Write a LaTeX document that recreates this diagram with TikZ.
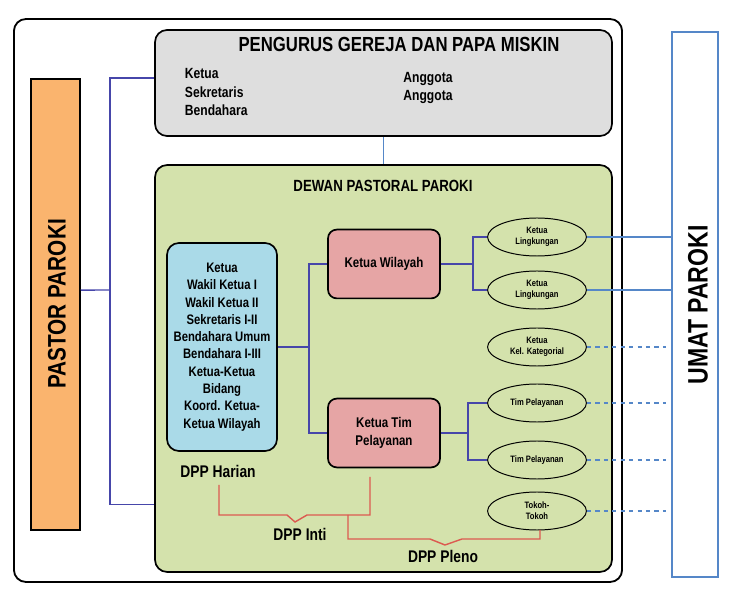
\documentclass[tikz,border=0pt]{standalone}
\usepackage{fontspec}
\setmainfont{Liberation Sans}[FakeStretch=0.82]
\usepackage{tikz}
\usetikzlibrary{shapes.geometric}

\definecolor{pgdpgray}{RGB}{222,222,222}
\definecolor{dppgreen}{RGB}{212,226,172}
\definecolor{pastororange}{RGB}{250,180,110}
\definecolor{harianblue}{RGB}{170,218,232}
\definecolor{ketuapink}{RGB}{230,165,165}
\definecolor{navyline}{RGB}{70,70,170}
\definecolor{umatblue}{RGB}{85,135,200}
\definecolor{bracketred}{RGB}{220,90,80}

\tikzset{
  bigbox/.style={draw, line width=1.2pt, rounded corners=0.3cm},
  ketuabox/.style={draw, line width=1.2pt, rounded corners=0.22cm, fill=ketuapink,
    minimum width=2.8cm, minimum height=1.72cm, align=center,
    font=\bfseries\fontsize{10}{13}\selectfont},
  unit/.style={draw, ellipse, line width=0.7pt, minimum width=2.47cm, minimum height=0.95cm,
    inner sep=0pt, align=center, font=\bfseries\fontsize{6.6}{7.6}\selectfont},
  navy/.style={draw=navyline, line width=1pt},
  umat/.style={draw=umatblue, line width=1pt},
  umatdash/.style={draw=umatblue, line width=1pt, dash pattern=on 3pt off 3pt},
  brace/.style={draw=bracketred, line width=1pt},
  label/.style={font=\bfseries\fontsize{12}{14}\selectfont}
}

\begin{document}
\begin{tikzpicture}[x=0.025cm, y=-0.025cm]
    \useasboundingbox (0,0) rectangle (731,596);

    % kotak luar
    \node[draw, line width=1.3pt, rounded corners=0.3cm, minimum width=15.2cm, minimum height=14.07cm] (frame) at (318,300.5) {};

    % pengurus gereja
    \node[bigbox, fill=pgdpgray, minimum width=11.42cm, minimum height=2.65cm] (pgdp) at (383.5,83) {};
    \node[font=\bfseries\fontsize{14.5}{16}\selectfont] (pgdptitle) at (399,44) {PENGURUS GEREJA DAN PAPA MISKIN};
    \node[anchor=west, align=left, font=\bfseries\fontsize{10.5}{13.4}\selectfont] (pgdpleft) at (180,92) {Ketua\\Sekretaris\\Bendahara};
    \node[align=center, font=\bfseries\fontsize{10.5}{13.4}\selectfont] (pgdpright) at (428,88) {Anggota\\Anggota};

    % dewan pastoral
    \node[bigbox, fill=dppgreen, minimum width=11.42cm, minimum height=10.17cm] (dpp) at (383.5,368.5) {};
    \node[font=\bfseries\fontsize{11.5}{13}\selectfont] (dpptitle) at (383,186) {DEWAN PASTORAL PAROKI};

    % pastor dan umat
    \node[draw, line width=1.2pt, fill=pastororange, minimum width=1.22cm, minimum height=11.27cm] (pastor) at (55.5,304.5) {};
    \node[rotate=90, font=\bfseries\fontsize{18}{20}\selectfont] (pastortext) at (57,304) {PASTOR PAROKI};
    \node[draw=umatblue, line width=1.2pt, fill=white, minimum width=1.15cm, minimum height=13.62cm] (umat) at (695,304.5) {};
    \node[rotate=90, font=\bfseries\fontsize{20}{22}\selectfont] (umattext) at (698,305) {UMAT PAROKI};

    % dpp harian
    \node[draw, line width=1.2pt, rounded corners=0.3cm, fill=harianblue, minimum width=2.75cm, minimum height=5.2cm,
      align=center, font=\bfseries\fontsize{9.8}{12.3}\selectfont] (harian) at (222,347)
      {Ketua\\Wakil Ketua I\\Wakil Ketua II\\Sekretaris I-II\\Bendahara Umum\\Bendahara I-III\\Ketua-Ketua\\Bidang\\Koord. Ketua-\\Ketua Wilayah};

    \node[ketuabox] (wilayah) at (384,264) {Ketua Wilayah};
    \node[ketuabox] (timpel) at (384,433) {Ketua Tim\\Pelayanan};

    % elips
    \node[unit] (ling1) at (537,237) {Ketua\\Lingkungan};
    \node[unit] (ling2) at (537,290) {Ketua\\Lingkungan};
    \node[unit] (kateg) at (537,347) {Ketua\\Kel. Kategorial};
    \node[unit] (tim1) at (537,403) {Tim Pelayanan};
    \node[unit] (tim2) at (537,460) {Tim Pelayanan};
    \node[unit] (tokoh) at (537,511) {Tokoh-\\Tokoh};

    % garis
    \coordinate (bus) at (110,290);
    \coordinate (hub) at (309,347);
    \coordinate (wfork) at (473,264);
    \coordinate (tfork) at (468,433);

    \draw[navy] ([yshift=0.36cm]pastor.east) -- (bus);
    \draw[navy] ([yshift=0.12cm]pgdp.west) -| (bus) |- ([yshift=1.7cm]dpp.south west);
    \draw[umat] (pgdp.south) -- (dpp.north);

    \draw[navy] (harian.east) -- (hub);
    \draw[navy] (wilayah.west) -| (hub) |- (timpel.west);
    \draw[navy] (wilayah.east) -- (wfork);
    \draw[navy] (ling1.west) -| (wfork) |- (ling2.west);
    \draw[navy] (timpel.east) -- (tfork);
    \draw[navy] (tim1.west) -| (tfork) |- (tim2.west);

    \draw[umat] (ling1.east) -- (ling1.east -| umat.west);
    \draw[umat] (ling2.east) -- (ling2.east -| umat.west);
    \draw[umatdash] (kateg.east) -- ([xshift=-0.12cm]kateg.east -| umat.west);
    \draw[umatdash] (tim1.east) -- ([xshift=-0.12cm]tim1.east -| umat.west);
    \draw[umatdash] (tim2.east) -- ([xshift=-0.12cm]tim2.east -| umat.west);
    \draw[umatdash] (tokoh.east) -- ([xshift=-0.12cm]tokoh.east -| umat.west);

    % dpp harian, inti, pleno
    \node[label] (hariantext) at (218,471) {DPP Harian};
    \node[label] (intitext) at (300,534) {DPP Inti};
    \node[label] (plenotext) at (443,556) {DPP Pleno};

    \coordinate (intiA) at (219,485);
    \coordinate (intiB) at (370,477);
    \coordinate (plenoA) at (348,515);
    \coordinate (plenoB) at (540,530);
    \draw[brace] (intiA) -- (219,515) -- (287,515) -- (295,522) -- (307,515) -- (370,515) -- (intiB);
    \draw[brace] (plenoA) -- (348,539) -- (430,539) -- (445,545) -- (462,539) -- (540,539) -- (plenoB);

\end{tikzpicture}
\end{document}
